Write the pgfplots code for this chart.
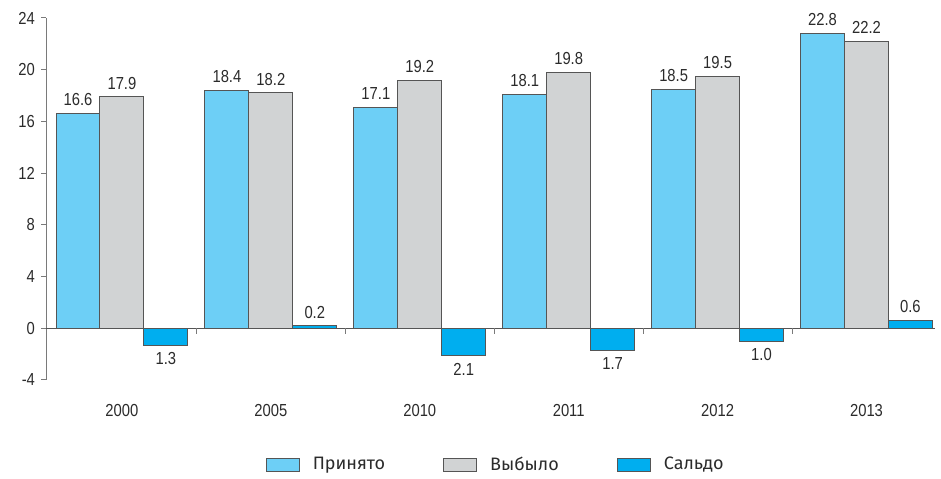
\documentclass[border=0pt]{standalone}
\usepackage{fontspec}
\setmainfont{Liberation Sans}[FakeStretch=0.85]
\newfontfamily\legfont{Fira Sans}
\usepackage{pgfplots}
\pgfplotsset{compat=1.18}

\definecolor{cPrin}{HTML}{6DCFF6}
\definecolor{cVyb}{HTML}{D1D3D4}
\definecolor{cSald}{HTML}{00AEEF}
\definecolor{cEdge}{HTML}{555555}
\definecolor{cAxis}{HTML}{7A7A7A}
\definecolor{cTxt}{HTML}{2B2B2B}

\begin{document}
\begin{tikzpicture}
\begin{axis}[
scale only axis,
width=444.5pt,
height=181pt,
ybar=0pt,
bar width=0.295,
xmin=-0.51, xmax=5.46,
ymin=-4, ymax=24,
ytick={-4,0,4,8,12,16,20,24},
xtick={0,1,2,3,4,5},
xticklabels={2000,2005,2010,2011,2012,2013},
axis lines*=left,
x axis line style={draw=none},
y axis line style={cAxis, line width=0.5pt},
xtick style={draw=none},
ytick style={cAxis, line width=0.5pt},
tick align=outside,
major tick length=2.5pt,
/pgf/number format/assume math mode=true,
ticklabel style={font=\fontsize{8.7}{10}\selectfont, text=cTxt},
xticklabel style={yshift=-6pt},
yticklabel style={xshift=0.5pt},
extra y ticks={0},
extra y tick labels={},
extra y tick style={grid=major, major grid style={cEdge, line width=0.6pt}, tick style={draw=none}},
point meta=y,
visualization depends on={abs(y) \as \absy},
nodes near coords={\pgfmathprintnumber[fixed,fixed zerofill,precision=1,assume math mode=true]{\absy}},
nodes near coords align=vertical,
every node near coord/.append style={font=\fontsize{8.7}{10}\selectfont, text=cTxt, inner sep=3.5pt},
legend columns=3,
legend style={at={(axis description cs:0.507,-0.235)}, anchor=center, draw=none, fill=none,
  font=\legfont\fontsize{9}{10}\selectfont, text=cTxt,
  /tikz/every odd column/.append style={column sep=4.5pt},
  /tikz/every even column/.append style={column sep=27pt}},
legend image code/.code={\draw[#1] (0pt,-3.25pt) rectangle (16.5pt,3.25pt);},
]
\addplot[fill=cPrin, draw=cEdge, line width=0.5pt] coordinates {
(0,16.6) (1,18.4) (2,17.1) (3,18.1) (4,18.5) (5,22.8)};
\addplot[fill=cVyb, draw=cEdge, line width=0.5pt] coordinates {
(0,17.9) (1,18.2) (2,19.2) (3,19.8) (4,19.5) (5,22.2)};
\addplot[fill=cSald, draw=cEdge, line width=0.5pt] coordinates {
(0,-1.3) (1,0.2) (2,-2.1) (3,-1.7) (4,-1.0) (5,0.6)};
\legend{Принято,Выбыло,Сальдо}
\pgfplotsinvokeforeach{0.5,1.5,2.5,3.5,4.5}{
  \draw[cAxis, line width=0.5pt] (axis cs:#1,0) -- ([yshift=-3pt]axis cs:#1,0);
}
\end{axis}
\pgfresetboundingbox
\path[use as bounding box] ([shift={(-23pt,-49.5pt)}]current axis.south west) rectangle ([shift={(3pt,9pt)}]current axis.north east);
\end{tikzpicture}
\end{document}
